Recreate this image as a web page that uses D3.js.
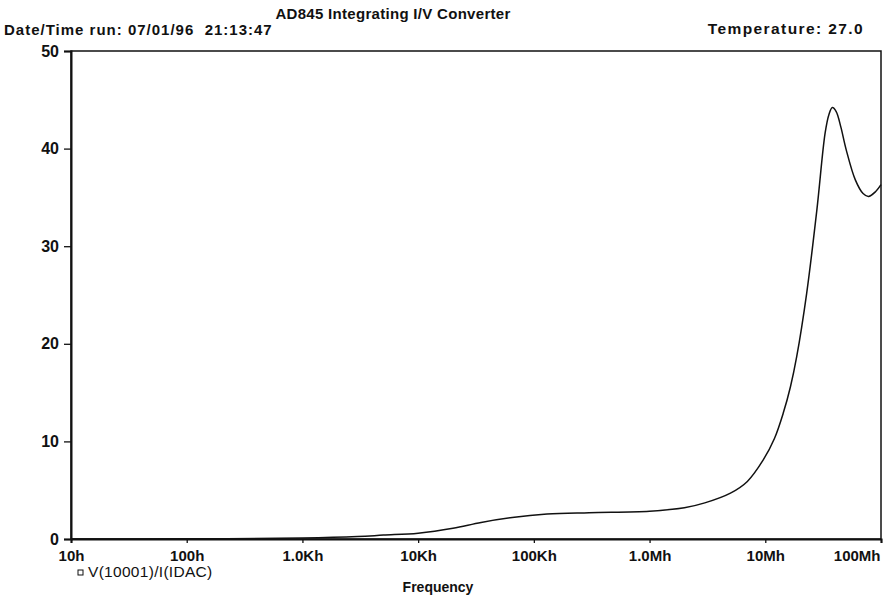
<!DOCTYPE html>
<html>
<head>
<meta charset="utf-8">
<script src="https://cdn.jsdelivr.net/npm/d3@7"></script>
<style>
  body { margin: 0; background: #fff; }
  svg text { font-family: "Liberation Sans", Arial, sans-serif; fill: #111; }
</style>
</head>
<body>
<div id="chart"></div>
<script>
// Frequency (Hz) and response
const freq = [10, 100, 1e3, 3e3, 5e3, 1e4, 2e4, 3.5e4, 6.5e4, 1.3e5, 3e5, 1e6, 2e6, 3e6, 5e6, 7e6,
  9.6e6, 1.2e7, 1.43e7, 1.65e7, 1.87e7, 2.28e7, 2.79e7, 3.29e7, 3.55e7, 3.8e7, 4.1e7, 4.5e7,
  5e7, 6e7, 7e7, 7.8e7, 9e7, 1e8];
const value = [0, 0.02, 0.1, 0.25, 0.4, 0.6, 1.1, 1.7, 2.2, 2.55, 2.7, 2.85, 3.2, 3.7, 4.7, 5.9,
  8.1, 10.3, 12.9, 15.6, 18.7, 25.2, 33.7, 41.6, 43.5, 44.2, 43.8, 42.2,
  39.9, 36.8, 35.4, 35.1, 35.6, 36.3];

const xTicks = [10, 100, 1e3, 1e4, 1e5, 1e6, 1e7, 1e8];
const xTickLabels = ["10h", "100h", "1.0Kh", "10Kh", "100Kh", "1.0Mh", "10Mh", "100Mh"];
const yTicks = [0, 10, 20, 30, 40, 50];

const width = 890, height = 598;
const margin = { top: 51, right: 9, bottom: 59, left: 71 };

const svg = d3.select("#chart").append("svg")
  .attr("width", width).attr("height", height);

const x = d3.scaleLog().domain([10, 1e8]).range([margin.left, width - margin.right]);
const y = d3.scaleLinear().domain([0, 50]).range([height - margin.bottom, margin.top]);

// header texts
svg.append("text").attr("x", 393).attr("y", 19).attr("text-anchor", "middle")
  .attr("font-size", 15).attr("font-weight", "bold").attr("letter-spacing", 0.3)
  .text("AD845 Integrating I/V Converter");
svg.append("text").attr("x", 4).attr("y", 35)
  .attr("font-size", 15).attr("font-weight", "bold").attr("letter-spacing", 1)
  .style("white-space", "pre").text("Date/Time run: 07/01/96  21:13:47");
svg.append("text").attr("x", 864).attr("y", 34).attr("text-anchor", "end")
  .attr("font-size", 15.5).attr("font-weight", "bold").attr("letter-spacing", 1.4)
  .text("Temperature: 27.0");

// frame
svg.append("rect")
  .attr("x", x(10)).attr("y", y(50))
  .attr("width", x(1e8) - x(10)).attr("height", y(0) - y(50))
  .attr("fill", "none").attr("stroke", "#111").attr("stroke-width", 1.5);

svg.append("g")
  .attr("transform", `translate(0,${y(0)})`)
  .call(d3.axisBottom(x).tickValues(xTicks).tickSize(4).tickPadding(7)
    .tickFormat((d, i) => xTickLabels[i]))
  .call((g) => g.select(".domain").attr("stroke", "#111").attr("stroke-width", 2))
  .call((g) => g.selectAll("line").attr("stroke", "#111").attr("stroke-width", 1.3))
  .call((g) => g.selectAll("text").attr("font-size", 15).attr("font-weight", "bold")
    .attr("fill", "#111").attr("font-family", "Liberation Sans, Arial, sans-serif"))
  .call((g) => g.selectAll(".tick:last-of-type text").attr("text-anchor", "end").attr("dx", -1));

svg.append("g")
  .attr("transform", `translate(${x(10)},0)`)
  .call(d3.axisLeft(y).tickValues(yTicks).tickSize(7).tickPadding(5))
  .call((g) => g.select(".domain").attr("stroke", "#111").attr("stroke-width", 2))
  .call((g) => g.selectAll("line").attr("stroke", "#111").attr("stroke-width", 1.3))
  .call((g) => g.selectAll("text").attr("font-size", 16).attr("font-weight", "bold")
    .attr("fill", "#111").attr("font-family", "Liberation Sans, Arial, sans-serif"));

// curve
const line = d3.line()
  .x((d, i) => x(freq[i]))
  .y((d) => y(d))
  .curve(d3.curveCatmullRom.alpha(0.5));

svg.append("path")
  .datum(value)
  .attr("d", line)
  .attr("fill", "none")
  .attr("stroke", "#111")
  .attr("stroke-width", 1.5);

// legend
svg.append("rect").attr("x", 78).attr("y", 570).attr("width", 5).attr("height", 5)
  .attr("fill", "none").attr("stroke", "#111").attr("stroke-width", 1);
svg.append("text").attr("x", 88).attr("y", 577).attr("font-size", 15.5)
  .attr("letter-spacing", 0.3).text("V(10001)/I(IDAC)");

svg.append("text").attr("x", 438).attr("y", 592).attr("text-anchor", "middle")
  .attr("font-size", 14).attr("font-weight", "bold").text("Frequency");
</script>
</body>
</html>
